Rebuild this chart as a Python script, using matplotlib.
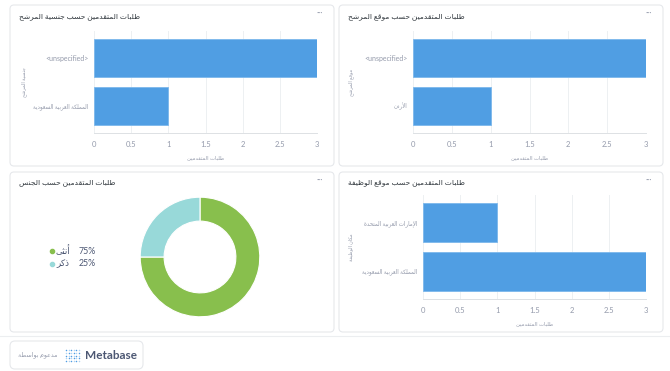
import matplotlib.pyplot as plt
from matplotlib.patches import FancyBboxPatch

# Daten
nationality_labels = ['<unspecified>', 'المملكة العربية السعودية']
nationality_counts = [3, 1]
candidate_loc_labels = ['<unspecified>', 'الأردن']
candidate_loc_counts = [3, 1]
gender_labels = ['أنثى', 'ذكر']
gender_counts = [3, 1]
job_loc_labels = ['الإمارات العربية المتحدة', 'المملكة العربية السعودية']
job_loc_counts = [1, 3]
x_ticks = [0, 0.5, 1, 1.5, 2, 2.5, 3]

titles = ['طلبات المتقدمين حسب جنسية المرشح', 'طلبات المتقدمين حسب موقع المرشح',
          'طلبات المتقدمين حسب الجنس', 'طلبات المتقدمين حسب موقع الوظيفة']
x_title = 'طلبات المتقدمين'
y_titles = ['جنسية المرشح', 'موقع المرشح', 'مكان الوظيفة']

# einfache arabische Formung (Praesentationsformen + RTL)
base_chars = [chr(c) for c in list(range(0x621, 0x63B)) + list(range(0x641, 0x64B))]
n_forms = [1, 2, 2, 2, 2, 4, 2, 4, 2, 4, 4, 4, 4, 4, 2, 2, 2, 2, 4, 4, 4, 4, 4, 4, 4, 4,
           4, 4, 4, 4, 4, 4, 4, 2, 2, 4]
FORMS = {}
code = 0xFE80
for ch, nf in zip(base_chars, n_forms):
    FORMS[ch] = (code, nf)
    code += nf
LAM_ALEF = {'\u0622': 0xFEF5, '\u0623': 0xFEF7, '\u0625': 0xFEF9, '\u0627': 0xFEFB}


def ar(text):
    if not any(c in FORMS for c in text):
        return text
    out = []
    i = 0
    n = len(text)
    while i < n:
        c = text[i]
        if c not in FORMS:
            out.append(c)
            i += 1
            continue
        prev = text[i - 1] if i > 0 else ''
        nxt = text[i + 1] if i + 1 < n else ''
        link_prev = prev in FORMS and FORMS[prev][1] == 4
        if c == '\u0644' and nxt in LAM_ALEF:
            out.append(chr(LAM_ALEF[nxt] + (1 if link_prev else 0)))
            i += 2
            continue
        start, nf = FORMS[c]
        link_next = nf == 4 and nxt in FORMS
        if nf == 1:
            k = 0
        elif link_prev and link_next:
            k = 3
        elif link_prev:
            k = 1
        elif link_next:
            k = 2
        else:
            k = 0
        out.append(chr(start + k))
        i += 1
    return ''.join(reversed(out))


FONT = ['Lato', 'DejaVu Sans']
plt.rcParams['font.family'] = FONT
BLUE = '#509EE3'
TXT = '#4C5773'
GRAY = '#949AAB'
BORDER = '#E6E8EB'

W, H = 670, 371
fig = plt.figure(figsize=(W / 100, H / 100), dpi=100)
fig.patch.set_facecolor('white')

bg = fig.add_axes([0, 0, 1, 1])
bg.set_xlim(0, W)
bg.set_ylim(H, 0)
bg.axis('off')


def box(x0, y0, x1, y1):
    return [x0 / W, 1 - y1 / H, (x1 - x0) / W, (y1 - y0) / H]


def card(x0, y0, x1, y1, r=4):
    bg.add_patch(FancyBboxPatch((x0, y0), x1 - x0, y1 - y0,
                                boxstyle=f'round,pad=0,rounding_size={r}',
                                fc='white', ec=BORDER, lw=0.8))


cards = [(10, 5, 334, 166), (339, 5, 663, 166), (10, 172, 334, 332), (339, 172, 663, 332)]
for (x0, y0, x1, y1), t in zip(cards, titles):
    card(x0, y0, x1, y1)
    bg.text(x0 + 9, y0 + 11, ar(t), fontsize=5.4, color='#2E353B', ha='left', va='center')
    bg.text(x1 - 14, y0 + 8.5, '···', fontsize=6, color=GRAY, ha='center', va='center')


def bar_chart(rect, labels, counts, ylab, ylab_x):
    ax = fig.add_axes(box(*rect))
    pos = list(range(len(labels)))
    ax.barh(pos, counts, height=0.81, color=BLUE, edgecolor='#7DB8EC', lw=0.6, zorder=3)
    ax.set_ylim(len(labels) - 1 + 0.575, -0.575)
    ax.set_xlim(0, 3)
    ax.set_yticks(pos)
    ax.set_yticklabels([ar(l) for l in labels], color=GRAY)
    for lab, raw in zip(ax.get_yticklabels(), labels):
        lab.set_fontsize(4 if ar(raw) != raw else 5)
    ax.set_xticks(x_ticks)
    ax.set_xticklabels([f'{t:g}' for t in x_ticks], fontsize=5.5, color=GRAY)
    ax.tick_params(length=0, pad=4)
    ax.tick_params(axis='x', pad=6)
    ax.grid(axis='x', color='#EDF0F2', lw=0.7, zorder=0)
    for s in ['top', 'right', 'left']:
        ax.spines[s].set_visible(False)
    ax.spines['bottom'].set_color('#DDE1E4')
    ax.spines['bottom'].set_linewidth(0.7)
    ax.set_xlabel(ar(x_title), fontsize=3.8, color=GRAY, labelpad=5)
    cy = (rect[1] + rect[3]) / 2
    bg.text(ylab_x, cy, ar(ylab), rotation=90, fontsize=3.5, color=GRAY,
            ha='center', va='center')
    return ax


bar_chart((94, 31, 317, 133), nationality_labels, nationality_counts, y_titles[0], 24)
bar_chart((413, 31, 646, 133), candidate_loc_labels, candidate_loc_counts, y_titles[1], 351)
bar_chart((423, 195, 646, 299), job_loc_labels, job_loc_counts, y_titles[2], 351)

# Donut
pie_colors = ['#88BF4D', '#98D9D9']
axp = fig.add_axes(box(139, 196, 261, 318))
axp.pie(gender_counts, colors=pie_colors, startangle=90, counterclock=False, radius=1,
        wedgeprops=dict(width=0.4, edgecolor='white', linewidth=0.8))
axp.set_xlim(-1.02, 1.02)
axp.set_ylim(-1.02, 1.02)
axp.set_aspect('equal')

total = sum(gender_counts)
for i, (lab, v) in enumerate(zip(gender_labels, gender_counts)):
    y = 251 + i * 13
    bg.scatter([52], [y], s=9, color=pie_colors[i], zorder=5)
    bg.text(56, y, ar(lab), fontsize=6.3, color=TXT, ha='left', va='center')
    bg.text(79, y, f'{v / total:.0%}', fontsize=6.3, color=TXT, ha='left', va='center')

# Fusszeile
bg.plot([0, W], [336, 336], color='#ECEEF0', lw=0.8)
card(10, 341, 143, 369, r=5)
bg.text(58, 355, ar('مدعوم بواسطة'), fontsize=4.5, color=GRAY, ha='right', va='center')
logo_x, logo_y = 66, 350
for col in range(6):
    for row in range(5):
        alpha = 1.0 if (col + row) % 2 == 0 else 0.45
        bg.scatter([logo_x + col * 2.6], [logo_y + row * 2.8], s=1.2, color=BLUE,
                   alpha=alpha, lw=0, zorder=5)
bg.text(85, 355.5, 'Metabase', fontsize=8.5, color=TXT, ha='left', va='center',
        fontweight='bold')

fig.savefig('out.png', dpi=100)
